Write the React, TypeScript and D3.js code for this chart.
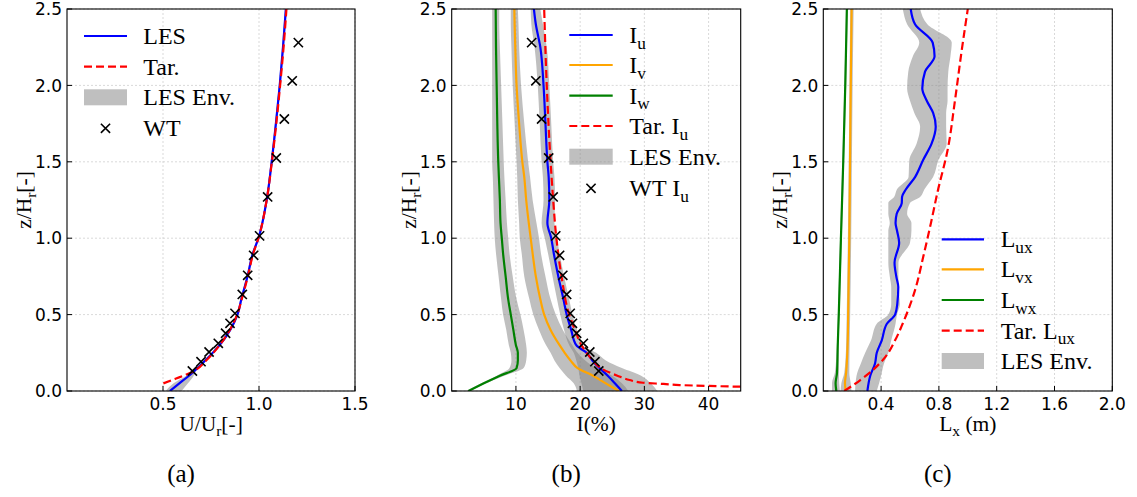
import React from "react";
import * as d3 from "d3";

// ---------- Panel (a): mean velocity ----------
const Z_A = [0, 0.05, 0.1, 0.13, 0.2, 0.3, 0.4, 0.5, 0.6, 0.75, 0.9, 1.0, 1.25, 1.5, 1.75, 2.0, 2.25, 2.5];
const LES_U = [0.536, 0.585, 0.635, 0.662, 0.72, 0.795, 0.85, 0.888, 0.908, 0.94, 0.968, 0.997, 1.04, 1.066, 1.088, 1.108, 1.125, 1.14];
const LES_U_LO = [0.514, 0.555, 0.62, 0.652, 0.715, 0.79, 0.845, 0.883, 0.903, 0.935, 0.963, 0.992, 1.035, 1.061, 1.083, 1.103, 1.12, 1.135];
const LES_U_HI = [0.597, 0.63, 0.66, 0.672, 0.725, 0.8, 0.855, 0.893, 0.913, 0.945, 0.973, 1.002, 1.045, 1.071, 1.093, 1.113, 1.13, 1.145];
const TAR_Z_A = [0.05, 0.08, 0.13, 0.2, 0.3, 0.4, 0.5, 0.6, 0.75, 0.9, 1.0, 1.25, 1.5, 1.75, 2.0, 2.25, 2.5];
const TAR_U = [0.502, 0.565, 0.66, 0.725, 0.795, 0.848, 0.886, 0.91, 0.942, 0.97, 0.997, 1.04, 1.067, 1.09, 1.11, 1.128, 1.143];
const WT_Z = [2.28, 2.03, 1.78, 1.525, 1.27, 1.015, 0.888, 0.757, 0.632, 0.508, 0.443, 0.378, 0.312, 0.255, 0.192, 0.131];
const WT_U = [1.205, 1.173, 1.132, 1.09, 1.045, 1.003, 0.972, 0.941, 0.913, 0.875, 0.849, 0.826, 0.788, 0.74, 0.698, 0.653];

// ---------- Panel (b): turbulence intensity ----------
const Z_B = [0, 0.05, 0.1, 0.15, 0.2, 0.25, 0.3, 0.4, 0.5, 0.6, 0.75, 0.9, 1.0, 1.1, 1.25, 1.4, 1.5, 1.75, 2.0, 2.25, 2.4, 2.5];
const IU = [26.5, 25.4, 24.3, 23.0, 21.9, 21.0, 19.4, 18.6, 17.9, 17.4, 16.6, 15.9, 15.5, 14.9, 15.2, 15.1, 14.9, 14.6, 14.3, 13.8, 13.1, 12.8];
const IU_LO = [20.5, 20.2, 19.9, 19.7, 19.4, 19.0, 18.3, 17.5, 16.9, 16.4, 15.7, 15.0, 14.5, 14.0, 14.3, 14.2, 14.0, 13.7, 13.4, 12.9, 12.4, 12.3];
const IU_HI = [32.0, 31.0, 29.5, 26.5, 24.0, 22.5, 20.4, 19.5, 18.8, 18.3, 17.5, 16.8, 16.4, 16.0, 16.1, 16.0, 15.8, 15.5, 15.2, 14.8, 14.2, 13.8];
const IV = [26.0, 24.0, 22.0, 19.6, 18.5, 17.6, 16.8, 15.4, 14.4, 13.8, 13.1, 12.6, 12.3, 12.0, 11.6, 11.3, 11.0, 10.5, 10.1, 9.9, 9.8, 9.75];
const IV_LO = [19.5, 19.0, 17.8, 16.8, 16.0, 15.4, 14.7, 13.6, 12.7, 12.1, 11.3, 10.9, 10.6, 10.5, 10.3, 10.2, 10.1, 9.8, 9.5, 9.3, 9.2, 9.2];
const IV_HI = [27.5, 26.5, 25.0, 22.5, 20.8, 19.6, 18.8, 17.3, 16.2, 15.4, 14.6, 13.9, 13.6, 13.2, 12.6, 12.2, 11.9, 11.3, 10.8, 10.5, 10.4, 10.3];
const IW = [2.6, 5.0, 7.5, 10.1, 10.3, 10.3, 10.0, 9.6, 9.2, 8.8, 8.4, 8.0, 7.8, 7.6, 7.5, 7.35, 7.25, 7.1, 7.0, 6.9, 6.87, 6.85];
const IW_LO = [2.3, 4.6, 7.0, 9.0, 9.3, 9.2, 8.9, 8.5, 8.0, 7.7, 7.3, 6.9, 6.7, 6.6, 6.5, 6.4, 6.3, 6.3, 6.3, 6.3, 6.3, 6.3];
const IW_HI = [2.9, 5.4, 8.2, 11.2, 11.6, 11.7, 11.6, 11.2, 10.7, 10.1, 9.5, 9.0, 8.8, 8.6, 8.4, 8.2, 8.1, 7.9, 7.7, 7.5, 7.4, 7.4];
const TAR_Z_B = [0.028, 0.033, 0.039, 0.046, 0.054, 0.072, 0.1, 0.15, 0.2, 0.3, 0.4, 0.5, 0.75, 1.0, 1.25, 1.5, 2.0, 2.5];
const TAR_IU = [45, 40, 35.5, 33.0, 29.8, 27.7, 25.8, 23.2, 22.0, 20.2, 19.2, 18.3, 17.1, 16.3, 15.8, 15.4, 14.8, 14.4];
const WT_IU = [12.45, 13.1, 14.0, 15.1, 15.8, 16.2, 16.8, 17.3, 17.9, 18.45, 18.8, 19.45, 20.5, 21.5, 22.3, 22.9];

// ---------- Panel (c): integral length scales ----------
const Z_LUX = [0, 0.1, 0.18, 0.25, 0.33, 0.44, 0.5, 0.57, 0.68, 0.75, 0.84, 0.97, 1.05, 1.1, 1.16, 1.23, 1.27, 1.32, 1.4, 1.51, 1.62, 1.73, 1.82, 1.9, 1.98, 2.09, 2.19, 2.28, 2.4, 2.5];
const LUX = [0.305, 0.325, 0.358, 0.37, 0.404, 0.44, 0.497, 0.512, 0.519, 0.505, 0.493, 0.525, 0.51, 0.5, 0.508, 0.543, 0.545, 0.572, 0.635, 0.69, 0.75, 0.778, 0.76, 0.716, 0.685, 0.704, 0.77, 0.757, 0.635, 0.605];
const LUX_LO = [0.22, 0.23, 0.26, 0.29, 0.33, 0.37, 0.45, 0.47, 0.47, 0.46, 0.45, 0.45, 0.45, 0.46, 0.45, 0.45, 0.49, 0.51, 0.59, 0.595, 0.646, 0.67, 0.63, 0.6, 0.58, 0.588, 0.62, 0.664, 0.58, 0.55];
const LUX_HI = [0.37, 0.40, 0.42, 0.45, 0.47, 0.5, 0.51, 0.53, 0.52, 0.52, 0.52, 0.6, 0.61, 0.61, 0.58, 0.6, 0.67, 0.7, 0.76, 0.796, 0.854, 0.85, 0.85, 0.86, 0.86, 0.865, 0.88, 0.889, 0.72, 0.67];
const Z_LVW = [0, 0.05, 0.12, 0.3, 0.5, 1.0, 1.5, 2.0, 2.5];
const LVX = [0.155, 0.15, 0.158, 0.168, 0.172, 0.18, 0.185, 0.19, 0.196];
const LVX_LO = [0.12, 0.125, 0.145, 0.158, 0.162, 0.17, 0.176, 0.181, 0.186];
const LVX_HI = [0.195, 0.19, 0.18, 0.182, 0.186, 0.193, 0.198, 0.203, 0.21];
const LWX = [0.09, 0.085, 0.095, 0.1, 0.107, 0.122, 0.138, 0.152, 0.163];
const LWX_LO = [0.06, 0.06, 0.08, 0.094, 0.101, 0.116, 0.132, 0.146, 0.157];
const LWX_HI = [0.115, 0.11, 0.108, 0.106, 0.113, 0.128, 0.144, 0.158, 0.169];
const TAR_Z_C = [0, 0.07, 0.14, 0.22, 0.33, 0.44, 0.66, 0.88, 1.1, 1.3, 1.58, 1.9, 2.23, 2.5];
const TAR_LUX = [0.145, 0.254, 0.346, 0.427, 0.496, 0.549, 0.635, 0.692, 0.745, 0.79, 0.861, 0.911, 0.958, 1.0];

// ---------- ticks ----------
const Y_TICKS = [0, 0.5, 1.0, 1.5, 2.0, 2.5];
const XA_TICKS = [0.5, 1.0, 1.5];
const XB_TICKS = [10, 20, 30, 40];
const XC_TICKS = [0.4, 0.8, 1.2, 1.6, 2.0];

const SERIF = "'Liberation Serif', 'Times New Roman', serif";
const SANS = "'DejaVu Sans', sans-serif";
const BLUE = "#0000ff";
const ORANGE = "#ffa500";
const GREEN = "#008000";
const RED = "#ff0000";
const TOP = 9;
const BOT = 391;

function Rich({ x, y, text, size, anchor = "start", transform }: any) {
  const parts: { t: string; sub: boolean }[] = [];
  const re = /_\{([^}]*)\}/g;
  let last = 0;
  let m;
  while ((m = re.exec(text))) {
    if (m.index > last) parts.push({ t: text.slice(last, m.index), sub: false });
    parts.push({ t: m[1], sub: true });
    last = m.index + m[0].length;
  }
  if (last < text.length) parts.push({ t: text.slice(last), sub: false });
  const shift = size * 0.24;
  let prevSub = false;
  return (
    <text x={x} y={y} fontSize={size} fontFamily={SERIF} textAnchor={anchor} transform={transform} fill="#000">
      {parts.map((p, i) => {
        const dy = p.sub ? (prevSub ? 0 : shift) : prevSub ? -shift : 0;
        prevSub = p.sub;
        return (
          <tspan key={i} dy={dy} fontSize={p.sub ? size * 0.72 : size}>
            {p.t}
          </tspan>
        );
      })}
    </text>
  );
}

type Series = { z: number[]; v: number[]; color: string; dash?: boolean };
type Band = { z: number[]; lo: number[]; hi: number[] };
type LegendItem = { kind: "line" | "dash" | "patch" | "marker"; color?: string; label: string };

function Panel({
  id, left, right, domain, xTicks, fmt, xLabel, bands, lines, markers, legend, legendPos, tag,
}: {
  id: string; left: number; right: number; domain: [number, number]; xTicks: number[]; fmt: (v: number) => string;
  xLabel: string; bands: Band[]; lines: Series[]; markers: { z: number[]; v: number[] } | null;
  legend: LegendItem[]; legendPos: { x0: number; x1: number; tx: number; ys: number[] }; tag: string;
}) {
  const x = d3.scaleLinear().domain(domain).range([left, right]);
  const y = d3.scaleLinear().domain([0, 2.5]).range([BOT, TOP]);
  const lineGen = (s: Series) =>
    d3.line<number>().x((_, i) => x(s.v[i])).y((d) => y(d)).curve(d3.curveMonotoneY)(s.z) || "";
  const areaGen = (b: Band) =>
    d3.area<number>().y((d) => y(d)).x0((_, i) => x(b.lo[i])).x1((_, i) => x(b.hi[i])).curve(d3.curveMonotoneY)(b.z) || "";
  const cx = (left + right) / 2;
  const xm = 4.6;
  return (
    <g>
      <defs>
        <clipPath id={`clip-${id}`}>
          <rect x={left} y={TOP} width={right - left} height={BOT - TOP} />
        </clipPath>
      </defs>
      {xTicks.map((t) => (
        <line key={"gx" + t} x1={x(t)} x2={x(t)} y1={TOP} y2={BOT} stroke="#cfcfcf" strokeWidth={0.8} strokeDasharray="2,2" />
      ))}
      {Y_TICKS.map((t) => (
        <line key={"gy" + t} x1={left} x2={right} y1={y(t)} y2={y(t)} stroke="#cfcfcf" strokeWidth={0.8} strokeDasharray="2,2" />
      ))}
      <g clipPath={`url(#clip-${id})`}>
        {bands.map((b, i) => (
          <path key={"b" + i} d={areaGen(b)} fill="#808080" fillOpacity={0.5} stroke="none" />
        ))}
        {lines.map((s, i) => (
          <path
            key={"l" + i}
            d={lineGen(s)}
            fill="none"
            stroke={s.color}
            strokeWidth={2.2}
            strokeDasharray={s.dash ? "8,4" : undefined}
          />
        ))}
        {markers &&
          markers.z.map((zz, i) => {
            const px = x(markers.v[i]);
            const py = y(zz);
            return (
              <path
                key={"m" + i}
                d={`M${px - xm},${py - xm}L${px + xm},${py + xm}M${px - xm},${py + xm}L${px + xm},${py - xm}`}
                stroke="#000"
                strokeWidth={1.6}
              />
            );
          })}
      </g>
      <rect x={left} y={TOP} width={right - left} height={BOT - TOP} fill="none" stroke="#000" strokeWidth={1.1} />
      {xTicks.map((t) => (
        <g key={"tx" + t}>
          <line x1={x(t)} x2={x(t)} y1={BOT} y2={BOT - 5} stroke="#000" strokeWidth={1} />
          <text x={x(t)} y={409.5} fontSize={17} fontFamily={SANS} textAnchor="middle">
            {fmt(t)}
          </text>
        </g>
      ))}
      {Y_TICKS.map((t) => (
        <g key={"ty" + t}>
          <line x1={left} x2={left + 5} y1={y(t)} y2={y(t)} stroke="#000" strokeWidth={1} />
          <text x={left - 5} y={y(t) + 6.2} fontSize={17} fontFamily={SANS} textAnchor="end">
            {t.toFixed(1)}
          </text>
        </g>
      ))}
      <Rich x={cx} y={431} text={xLabel} size={21.5} anchor="middle" />
      <Rich x={0} y={0} text={"z/H_{r}[-]"} size={21.5} anchor="middle" transform={`translate(${left - 36},${(TOP + BOT) / 2}) rotate(-90)`} />
      {legend.map((it, i) => {
        const yy = legendPos.ys[i];
        const { x0, x1, tx } = legendPos;
        let handle;
        if (it.kind === "line" || it.kind === "dash") {
          handle = (
            <line x1={x0} x2={x1} y1={yy} y2={yy} stroke={it.color} strokeWidth={2.2} strokeDasharray={it.kind === "dash" ? "8,4" : undefined} />
          );
        } else if (it.kind === "patch") {
          handle = <rect x={x0} y={yy - 8} width={x1 - x0} height={16} fill="#808080" fillOpacity={0.5} />;
        } else {
          const mx = (x0 + x1) / 2;
          handle = (
            <path d={`M${mx - xm},${yy - xm}L${mx + xm},${yy + xm}M${mx - xm},${yy + xm}L${mx + xm},${yy - xm}`} stroke="#000" strokeWidth={1.6} />
          );
        }
        return (
          <g key={"lg" + i}>
            {handle}
            <Rich x={tx} y={yy + 7.8} text={it.label} size={24} />
          </g>
        );
      })}
      <text x={cx - 30} y={482} fontSize={25} fontFamily={SERIF} textAnchor="middle">
        {tag}
      </text>
    </g>
  );
}

export default function App() {
  const f1 = (v: number) => v.toFixed(1);
  const f0 = (v: number) => v.toFixed(0);
  return (
    <svg width={1137} height={497} style={{ position: "absolute", left: 0, top: 0, background: "#fff" }}>
      <rect x={0} y={0} width={1137} height={497} fill="#fff" />
      <Panel
        id="a"
        left={67}
        right={355}
        domain={[0, 1.5]}
        xTicks={XA_TICKS}
        fmt={f1}
        xLabel={"U/U_{r}[-]"}
        bands={[{ z: Z_A, lo: LES_U_LO, hi: LES_U_HI }]}
        lines={[
          { z: Z_A, v: LES_U, color: BLUE },
          { z: TAR_Z_A, v: TAR_U, color: RED, dash: true },
        ]}
        markers={{ z: WT_Z, v: WT_U }}
        legend={[
          { kind: "line", color: BLUE, label: "LES" },
          { kind: "dash", color: RED, label: "Tar." },
          { kind: "patch", label: "LES Env." },
          { kind: "marker", label: "WT" },
        ]}
        legendPos={{ x0: 84, x1: 127, tx: 143.3, ys: [36, 66.7, 97.3, 128.3] }}
        tag="(a)"
      />
      <Panel
        id="b"
        left={451.7}
        right={740.7}
        domain={[0, 45]}
        xTicks={XB_TICKS}
        fmt={f0}
        xLabel={"I(%)"}
        bands={[
          { z: Z_B, lo: IU_LO, hi: IU_HI },
          { z: Z_B, lo: IV_LO, hi: IV_HI },
          { z: Z_B, lo: IW_LO, hi: IW_HI },
        ]}
        lines={[
          { z: Z_B, v: IU, color: BLUE },
          { z: Z_B, v: IV, color: ORANGE },
          { z: Z_B, v: IW, color: GREEN },
          { z: TAR_Z_B, v: TAR_IU, color: RED, dash: true },
        ]}
        markers={{ z: WT_Z, v: WT_IU }}
        legend={[
          { kind: "line", color: BLUE, label: "I_{u}" },
          { kind: "line", color: ORANGE, label: "I_{v}" },
          { kind: "line", color: GREEN, label: "I_{w}" },
          { kind: "dash", color: RED, label: "Tar. I_{u}" },
          { kind: "patch", label: "LES Env." },
          { kind: "marker", label: "WT I_{u}" },
        ]}
        legendPos={{ x0: 569.3, x1: 612.7, tx: 629.3, ys: [35, 65, 95.7, 126, 156.7, 188.3] }}
        tag="(b)"
      />
      <Panel
        id="c"
        left={823.3}
        right={1112.3}
        domain={[0, 2]}
        xTicks={XC_TICKS}
        fmt={f1}
        xLabel={"L_{x} (m)"}
        bands={[
          { z: Z_LUX, lo: LUX_LO, hi: LUX_HI },
          { z: Z_LVW, lo: LVX_LO, hi: LVX_HI },
          { z: Z_LVW, lo: LWX_LO, hi: LWX_HI },
        ]}
        lines={[
          { z: Z_LUX, v: LUX, color: BLUE },
          { z: Z_LVW, v: LVX, color: ORANGE },
          { z: Z_LVW, v: LWX, color: GREEN },
          { z: TAR_Z_C, v: TAR_LUX, color: RED, dash: true },
        ]}
        markers={null}
        legend={[
          { kind: "line", color: BLUE, label: "L_{ux}" },
          { kind: "line", color: ORANGE, label: "L_{vx}" },
          { kind: "line", color: GREEN, label: "L_{wx}" },
          { kind: "dash", color: RED, label: "Tar. L_{ux}" },
          { kind: "patch", label: "LES Env." },
        ]}
        legendPos={{ x0: 941.7, x1: 984, tx: 1000.7, ys: [239.3, 269.3, 300, 330.7, 361] }}
        tag="(c)"
      />
    </svg>
  );
}
